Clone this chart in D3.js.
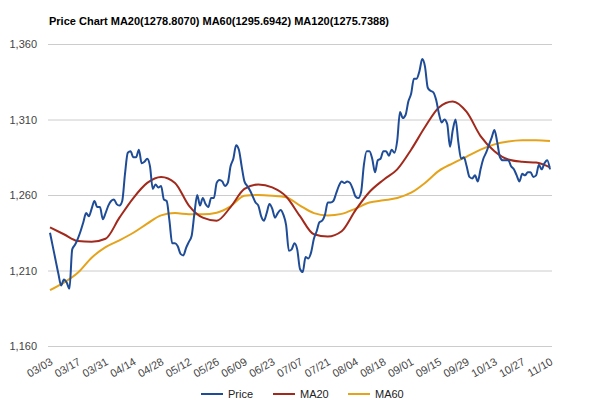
<!DOCTYPE html>
<html><head><meta charset="utf-8">
<script src="https://cdn.jsdelivr.net/npm/d3@7"></script>
<style>body{margin:0;background:#fff}svg{display:block}</style>
</head><body>
<svg id="c" width="600" height="409"></svg>
<script>
const titleText = "Price Chart MA20(1278.8070) MA60(1295.6942) MA120(1275.7388)";
const tickLabels = ["03/03","03/17","03/31","04/14","04/28","05/12","05/26","06/09","06/23","07/07","07/21","08/04","08/18","09/01","09/15","09/29","10/13","10/27","11/10"];
const tickStep = 10;          // trading days between date labels
const yTicks = [1160, 1210, 1260, 1310, 1360];
// daily closing price, one value per trading day from 03/03
const price = [1235,1226,1217,1208,1200,1204,1202,1198,1224,1227,
1231,1236,1242,1248,1246,1251,1256,1252,1252,1244,
1248,1253,1256,1257,1254,1253,1256,1274,1288,1289,
1285,1285,1290,1281,1282,1284,1279,1264,1267,1265,
1266,1257,1256,1243,1228,1228,1226,1221,1220,1225,
1229,1233,1248,1260,1253,1258,1254,1252,1258,1258,
1268,1270,1269,1266,1268,1279,1284,1293,1290,1279,
1269,1266,1263,1259,1255,1253,1246,1243,1248,1254,
1251,1245,1248,1250,1247,1240,1223,1224,1228,1224,
1211,1209,1219,1218,1222,1231,1236,1242,1243,1247,
1255,1255,1256,1261,1266,1269,1268,1269,1268,1264,
1259,1258,1262,1280,1289,1289,1284,1275,1283,1284,
1289,1289,1286,1290,1288,1296,1315,1311,1313,1322,
1327,1337,1337,1342,1350,1345,1331,1329,1328,1323,
1314,1308,1310,1307,1292,1303,1310,1295,1284,1285,
1279,1272,1271,1273,1269,1277,1284,1288,1293,1298,
1303,1295,1285,1283,1283,1283,1279,1277,1273,1269,
1274,1273,1275,1275,1272,1273,1280,1277,1281,1283,1277];
// moving averages, read every 5 trading days
const maStep = 5;
const ma20 = [1238.6,1234,1229.5,1229,1231,1245,1258,1268,1272,1268,
1253,1245,1243,1252,1264,1267,1265,1259,1246,1234,
1232.5,1236,1250,1262,1270,1277,1290,1305,1318,1322,
1315,1299,1289,1283.5,1282,1281.5,1278.3];
const ma60 = [1197,1202,1208.5,1218.5,1225.5,1230,1235,1241,1246.5,1248,
1247.3,1247.2,1248.3,1252.5,1259.5,1260,1259.5,1258.5,1253,1248,
1246.5,1247.5,1251,1255,1256.5,1258,1261.5,1268,1276,1281,
1285.4,1290,1293.5,1295.4,1296.2,1296.3,1295.7];
const seriesNames = ["Price","MA20","MA60"];
const colors = ["#1f4c97","#a12a1d","#e5a31b"];

const svg = d3.select("#c");
const font = "'Liberation Sans', Arial, sans-serif";
const x = d3.scaleLinear().domain([0, price.length - 1]).range([50, 550]);
const y = d3.scaleLinear().domain([1160, 1360]).range([346, 44]);

// title
const t = svg.append("text").attr("x", 49).attr("y", 24.5)
  .attr("font-family", font).attr("font-weight", "bold").attr("font-size", 11)
  .attr("fill", "#000").text(titleText);

// grid + y labels
const yAxis = svg.append("g").attr("transform", "translate(48,0)")
  .call(d3.axisLeft(y).tickValues(yTicks).tickSize(-504).tickPadding(11).tickFormat(d3.format(",")));
yAxis.select(".domain").remove();
yAxis.selectAll("line").attr("stroke", "#cccccc");
yAxis.selectAll("text").attr("font-family", font).attr("font-size", 11).attr("fill", "#444");

// x labels
const xAxis = svg.append("g").attr("transform", "translate(0,346)")
  .call(d3.axisBottom(x).tickValues(d3.range(0, price.length, tickStep)).tickSize(0)
    .tickFormat((d, i) => tickLabels[i]));
xAxis.select(".domain").remove();
xAxis.selectAll("text").attr("font-family", font).attr("font-size", 11).attr("fill", "#444")
  .attr("text-anchor", "end").attr("dy", null).attr("y", 0)
  .attr("transform", "translate(3,18) rotate(-30)");

// lines
const lineP = d3.line().x((d, i) => x(i)).y(d => y(d)).curve(d3.curveMonotoneX);
const lineM = d3.line().x((d, i) => x(i * maStep)).y(d => y(d)).curve(d3.curveMonotoneX);
svg.append("path").datum(ma60).attr("d", lineM).attr("fill", "none").attr("stroke", colors[2]).attr("stroke-width", 2);
svg.append("path").datum(ma20).attr("d", lineM).attr("fill", "none").attr("stroke", colors[1]).attr("stroke-width", 2);
svg.append("path").datum(price).attr("d", lineP).attr("fill", "none").attr("stroke", colors[0]).attr("stroke-width", 2).attr("stroke-linejoin", "round");

// legend
const legX = [201, 273, 348];
const leg = svg.append("g");
seriesNames.forEach((n, i) => {
  leg.append("line").attr("x1", legX[i]).attr("x2", legX[i] + 22).attr("y1", 394).attr("y2", 394)
    .attr("stroke", colors[i]).attr("stroke-width", 2);
  leg.append("text").attr("x", legX[i] + 27).attr("y", 398).attr("font-family", font)
    .attr("font-size", 11).attr("fill", "#222").text(n);
});
</script>
</body></html>
